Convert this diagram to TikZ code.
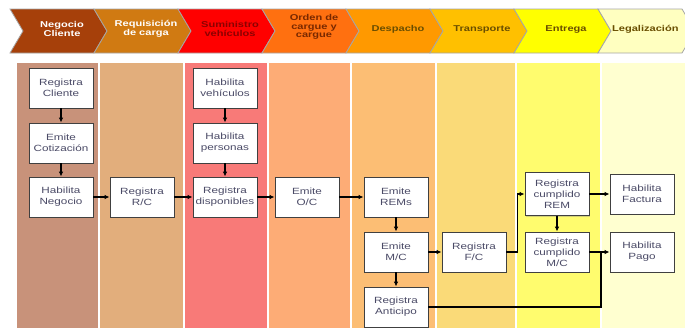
\documentclass[tikz,border=0pt]{standalone}
\usepackage{fontspec}
\setmainfont{Liberation Sans}[FakeStretch=1.3]
\usetikzlibrary{arrows.meta,shadows}
\definecolor{laneA}{RGB}{200,146,122}
\definecolor{laneB}{RGB}{226,174,124}
\definecolor{laneC}{RGB}{248,122,120}
\definecolor{laneD}{RGB}{253,172,118}
\definecolor{laneE}{RGB}{252,190,116}
\definecolor{laneF}{RGB}{250,218,120}
\definecolor{laneG}{RGB}{255,252,110}
\definecolor{laneH}{RGB}{255,255,208}
\definecolor{fasA}{RGB}{166,64,10}
\definecolor{fasB}{RGB}{208,122,18}
\definecolor{fasC}{RGB}{255,0,0}
\definecolor{fasD}{RGB}{255,112,16}
\definecolor{fasE}{RGB}{255,153,0}
\definecolor{fasF}{RGB}{255,192,0}
\definecolor{fasG}{RGB}{255,255,0}
\definecolor{fasH}{RGB}{255,255,192}
\definecolor{txtrojo}{RGB}{140,0,0}
\definecolor{txtcafe}{RGB}{120,40,0}
\definecolor{txtoliva}{RGB}{105,78,0}
\definecolor{boxtext}{RGB}{74,74,102}

\begin{document}
\begin{tikzpicture}[x=1pt, y=-1pt, >={Latex[length=5pt,width=4.5pt]},
    paso/.style={draw=black!75, fill=white, line width=0.8pt, minimum width=64pt,
      minimum height=40pt, inner sep=2pt, align=center, text=boxtext,
      font=\fontsize{9}{11}\selectfont,
      drop shadow={opacity=0.35, shadow xshift=1.2pt, shadow yshift=-1.2pt}},
    fase/.style={font=\bfseries\fontsize{8.5}{8.8}\selectfont, align=center, inner sep=1pt},
    flujo/.style={line width=1.2pt}]
  \useasboundingbox (0,0) rectangle (685,330);
  \fill[white] (0,0) rectangle (685,330);
  \foreach \xa/\xb/\c in {17/98/laneA, 100/183/laneB, 185/267/laneC, 269/350/laneD,
      352/435/laneE, 437/515/laneF, 517/600/laneG, 602/685/laneH}
    \fill[\c] (\xa,63) rectangle (\xb,328);
  \foreach \i/\c in {0/fasA, 1/fasB, 2/fasC, 3/fasD, 4/fasE, 5/fasF, 6/fasG, 7/fasH}
    \draw[fill=\c, draw=gray!70, line width=0.8pt] ({10+84*\i},9) -- ++(84,0) -- ++(13,22)
      -- ++(-13,22) -- ++(-84,0) -- ++(13,-22) -- cycle;

  \node[fase, text=white] (f1) at (62,29) {Negocio\\Cliente};
  \node[fase, text=white] (f2) at (146,29) {Requisición\\de carga};
  \node[fase, text=txtrojo] (f3) at (230,29) {Suministro\\vehículos};
  \node[fase, text=txtcafe] (f4) at (314,27) {Orden de\\cargue y\\cargue};
  \node[fase, text=txtoliva] (f5) at (398,29) {Despacho};
  \node[fase, text=txtoliva] (f6) at (482,29) {Transporte};
  \node[fase, text=txtoliva] (f7) at (566,29) {Entrega};
  \node[fase, text=txtoliva, anchor=west] (f8) at (611,29) {Legalización};

  \node[paso] (rcli) at (61,88) {Registra\\Cliente};
  \node[paso] (ecot) at (61,143) {Emite\\Cotización};
  \node[paso] (hneg) at (61,197) {Habilita\\Negocio};
  \node[paso] (rrc) at (142,197) {Registra\\R/C};
  \node[paso] (hveh) at (225,88) {Habilita\\vehículos};
  \node[paso] (hper) at (225,143) {Habilita\\personas};
  \node[paso] (rdis) at (225,197) {Registra\\disponibles};
  \node[paso] (eoc) at (307,197) {Emite\\O/C};
  \node[paso] (erem) at (396,197) {Emite\\REMs};
  \node[paso] (emc) at (396,252) {Emite\\M/C};
  \node[paso] (rant) at (396,307) {Registra\\Anticipo};
  \node[paso] (rfc) at (474,252) {Registra\\F/C};
  \node[paso, minimum height=43pt] (rcrem) at (557,194) {Registra\\cumplido\\REM};
  \node[paso] (rcmc) at (557,252) {Registra\\cumplido\\M/C};
  \node[paso] (hfac) at (642,194) {Habilita\\Factura};
  \node[paso] (hpag) at (642,252) {Habilita\\Pago};
  \coordinate (jpago) at (601,252);

  \foreach \a/\b in {rcli/ecot, ecot/hneg, hveh/hper, hper/rdis, hneg/rrc, rrc/rdis,
      rdis/eoc, eoc/erem, erem/emc, emc/rant, emc/rfc, rcrem/rcmc, rcrem/hfac, rcmc/hpag}
    \draw[flujo, ->] (\a) -- (\b);
  \draw[flujo, ->] (rfc.east) -- ++(11,0) |- (rcrem.west);
  \draw[flujo] (rant) -| (jpago);
\end{tikzpicture}
\end{document}
